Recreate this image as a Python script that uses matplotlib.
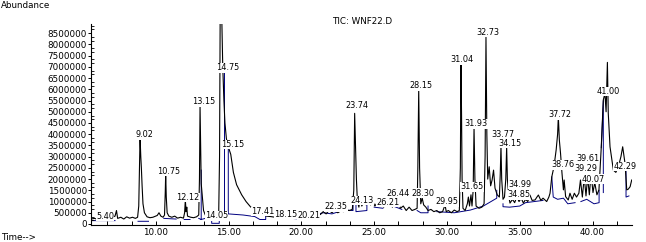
import matplotlib
matplotlib.use("Agg")
import matplotlib.pyplot as plt
import numpy as np
from matplotlib.ticker import MultipleLocator, FuncFormatter

nan = np.nan

# TIC trace (time in min, abundance in millions)
tic_t = [5.55, 5.8, 6.0, 6.2, 6.4, 6.6, 6.8, 7.0, 7.2, 7.3, 7.38, 7.6, 7.8, 8.0, 8.2, 8.4, 8.6, 8.75,
         8.83, 8.88, 8.92, 8.97, 9.01, 9.06, 9.12, 9.22, 9.4, 9.6, 9.8,
         10.1, 10.22, 10.35, 10.5, 10.6, 10.65, 10.68, 10.72, 10.78, 10.9, 11.1, 11.3, 11.5, 11.7, 11.9,
         11.98, 12.03, 12.08, 12.13, 12.18, 12.4, 12.6, 12.8, 12.95,
         13.0, 13.04, 13.08, 13.12, 13.2, 13.28, 13.4, 13.6, 13.8, 14.0, 14.2, 14.32,
         14.38, 14.42, 14.54, 14.6, 14.68, 14.75, 14.85, 15.0, 15.15, 15.33, 15.55, 15.9, 16.2, 16.5, 16.8, 17.16,
         17.4, 17.6, 17.9, 18.2, 18.5, 18.8, 19.1, 19.5, 19.8, 20.1, 20.4, 20.7, 20.9, 21.1, 21.3, 21.5, 21.7,
         21.9, 22.1, 22.3, 22.5, 22.7, 22.9, 23.1, 23.3, 23.5,
         23.6, 23.66, 23.72, 23.78, 23.85, 23.95, 24.05, 24.15, 24.3, 24.45, 24.6, 24.75, 24.9, 25.05, 25.2,
         25.35, 25.5, 25.65, 25.8, 25.95, 26.1, 26.25, 26.4, 26.5, 26.65, 26.8, 27.0, 27.2, 27.4, 27.6, 27.8, 27.95,
         28.0, 28.06, 28.12, 28.2, 28.3, 28.4, 28.55, 28.7, 28.9, 29.1, 29.3, 29.5, 29.7, 29.87, 29.95, 30.1,
         30.3, 30.5, 30.7, 30.85,
         30.92, 30.96, 31.0, 31.04, 31.1, 31.25, 31.4, 31.47, 31.55, 31.65, 31.72,
         31.8, 31.86, 31.92, 32.0, 32.2, 32.4, 32.55,
         32.62, 32.68, 32.74, 32.8, 32.9, 33.0, 33.1, 33.2, 33.3, 33.45, 33.6,
         33.66, 33.71, 33.76, 33.85, 33.95, 34.04, 34.1, 34.15, 34.25, 34.33, 34.5, 34.65, 34.8, 34.95, 35.1,
         35.25, 35.4, 35.55, 35.7, 35.85, 36.05, 36.18, 36.28, 36.45, 36.6, 36.85, 37.0, 37.08, 37.2,
         37.35, 37.5, 37.6, 37.65, 37.72, 37.8, 37.9, 38.0, 38.05, 38.15, 38.33, 38.45, 38.6, 38.75, 38.9,
         39.06, 39.17, 39.3, 39.43, 39.55, 39.66, 39.78, 39.9, 40.03, 40.15, 40.3, 40.44,
         40.6, 40.74, 40.85, 40.93, 41.02, 41.08, 41.2, 41.43, 41.6, 41.77, 41.95, 42.07, 42.23, 42.35,
         42.45, 42.58, 42.69]
tic_a = [0.22, 0.25, 0.2, 0.28, 0.22, 0.3, 0.24, 0.3, 0.35, 0.6, 0.25, 0.3, 0.22, 0.32, 0.26, 0.3, 0.25, 0.3,
         0.8, 2.6, 3.88, 3.0, 2.5, 1.7, 0.9, 0.5, 0.32, 0.28, 0.3,
         0.38, 0.5, 0.35, 0.3, 0.4, 1.4, 2.23, 1.2, 0.5, 0.35, 0.3, 0.35, 0.26, 0.3, 0.26,
         0.5, 1.07, 0.55, 0.75, 0.35, 0.3, 0.28, 0.32, 0.4,
         2.0, 5.26, 3.5, 1.8, 1.2, 0.6, 0.4, 0.33, 0.3, 0.3, 0.32, 0.4,
         3.0, 8.95, 8.95, 7.0, 5.5, 4.5, 3.8, 3.4, 3.1, 2.3, 1.75, 1.3, 1.0, 0.77, 0.6, 0.48,
         0.42, 0.35, 0.33, 0.3, 0.28, 0.3, 0.26, 0.28, 0.3, 0.3, 0.28, 0.4, 0.35, 0.45, 0.42, 0.55, 0.45,
         0.6, 0.5, 0.62, 0.5, 0.58, 0.55, 0.62, 0.6, 0.65,
         1.5, 4.93, 3.5, 2.0, 1.0, 0.75, 1.2, 0.8, 1.0, 0.85, 1.05, 0.85, 1.0, 0.8, 0.95,
         0.8, 0.9, 0.75, 0.9, 0.8, 1.0, 0.75, 1.05, 0.8, 0.95, 0.7, 0.8, 0.6, 0.75, 0.6, 0.65, 0.7,
         2.5, 6.0, 2.5, 0.9, 1.15, 0.85, 0.75, 0.6, 0.65, 0.55, 0.6, 0.5, 0.55, 0.85, 0.55, 0.6,
         0.5, 0.62, 0.55, 0.6,
         2.5, 7.16, 5.0, 2.0, 0.7, 0.6, 0.9, 1.2, 0.8, 1.3, 0.8,
         1.5, 4.31, 2.0, 0.8, 0.7, 0.75, 0.9,
         3.0, 8.32, 4.0, 2.0, 2.55, 1.7, 1.96, 2.4, 1.6, 1.3, 1.2,
         2.2, 3.49, 2.0, 1.1, 1.2, 2.0, 3.42, 2.0, 1.2, 0.93, 1.1, 0.95, 1.22, 1.0, 1.15,
         0.93, 1.1, 1.0, 1.29, 1.05, 1.07, 1.2, 1.29, 1.05, 1.15, 1.0, 1.2, 1.37, 2.1,
         2.55, 3.3, 4.0, 4.78, 3.74, 3.16, 2.27, 1.52, 1.96, 1.22, 1.07, 1.37, 1.1, 1.37, 1.2,
         1.37, 1.96, 1.2, 2.1, 1.25, 2.1, 1.3, 2.26, 1.4, 1.85, 1.3, 1.52,
         3.44, 5.53, 5.82, 5.0, 7.2, 4.93, 3.44, 2.4, 2.3, 2.55, 3.0, 3.44, 2.7, 1.52,
         1.55, 1.66, 1.96]

# integration baseline (blue), nan separates segments
base_t = [5.6, 7.2, nan, 8.78, 9.5, nan, 10.55, 11.4, nan, 11.95, 12.35, nan,
          12.95, 13.12, 13.12, nan, 13.12, 13.4, nan,
          13.84, 13.84, 14.36, 14.36, nan, 14.72, 14.72, nan,
          14.98, 14.98, 16.0, 16.8, 17.15, 17.55, 17.55, nan,
          19.3, 20.4, nan, 20.9, 21.5, 22.1, 22.9, 23.55, 23.55, nan,
          23.75, 23.75, 24.5, 24.5, nan, 25.0, 25.6, nan, 26.3, 26.9, nan,
          27.95, 28.2, 28.7, 28.7, nan,
          29.3, 30.5, 31.6, 32.5, 33.42, 33.42, nan,
          33.85, 33.85, 34.3, 35.0, 35.4, 36.0, 36.6, nan,
          37.2, 37.3, 37.6, 38.0, 38.3, 38.8, nan,
          39.2, 39.6, 40.1, 40.45, 40.45, nan,
          40.6, 40.74, 40.74, nan, 42.3, 42.3, 42.5]
base_a = [0.15, 0.15, nan, 0.12, 0.12, nan, 0.25, 0.22, nan, 0.2, 0.2, nan,
          0.25, 0.2, 2.4, nan, 0.2, 0.25, nan,
          0.35, 0.03, 0.03, 0.35, nan, 0.3, 7.0, nan,
          3.4, 0.45, 0.4, 0.33, 0.2, 0.2, 0.4, nan,
          0.25, 0.2, nan, 0.4, 0.5, 0.45, 0.62, 0.6, 1.0, nan,
          1.0, 0.55, 0.6, 0.9, nan, 0.75, 0.7, nan, 0.8, 0.65, nan,
          0.6, 0.5, 0.5, 0.8, nan,
          0.55, 0.5, 0.62, 0.8, 1.15, 1.5, nan,
          0.9, 0.77, 0.75, 0.8, 0.95, 1.0, 1.05, nan,
          2.1, 1.2, 1.1, 1.15, 0.9, 0.95, nan,
          1.0, 1.1, 0.9, 0.95, 1.5, nan,
          3.4, 5.5, 1.4, nan, 2.4, 1.2, 1.25]

# peak labels: text, centre time, centre abundance (millions)
lab_text = ["5.40", "9.02", "10.75", "12.12", "13.15", "14.05", "14.75", "15.15",
            "17.41", "18.15", "20.21", "22.35", "23.74", "24.13", "26.21", "26.44",
            "28.15", "28.30", "29.95", "31.04", "31.65", "31.93", "32.73", "33.77",
            "34.15", "34.99", "34.85", "37.72", "38.76", "39.61", "39.29", "40.07",
            "41.00", "42.29"]
lab_t = [6.51, 9.19, 10.87, 12.21, 13.28, 14.17, 14.93, 15.27,
         17.35, 18.95, 20.5, 22.38, 23.8, 24.15, 25.95, 26.65,
         28.22, 28.36, 30.0, 31.03, 31.72, 31.99, 32.84, 33.85,
         34.33, 35.0, 34.92, 37.77, 37.95, 39.66, 39.55, 40.07,
         41.06, 42.23]
lab_a = [0.33, 3.97, 2.36, 1.17, 5.44, 0.36, 6.96, 3.55,
         0.55, 0.42, 0.40, 0.76, 5.26, 1.04, 0.95, 1.35,
         6.15, 1.37, 0.98, 7.31, 1.65, 4.46, 8.52, 4.0,
         3.58, 1.75, 1.3, 4.86, 2.63, 2.92, 2.45, 2.0,
         5.9, 2.55]

fs = 6.3
lfs = 5.9
fig = plt.figure(figsize=(6.46, 2.42), dpi=100)
ax = fig.add_axes([91/646, 1 - 225/242, (632 - 91)/646, (225 - 24)/242])

ax.plot(base_t, np.array(base_a) * 1e6, color="#000080", lw=0.7, zorder=1)
ax.plot(tic_t, np.array(tic_a) * 1e6, color="black", lw=0.8, zorder=2)

for s, t, a in zip(lab_text, lab_t, lab_a):
    ax.text(t, a * 1e6, s, ha="center", va="center", fontsize=lfs, zorder=5,
            bbox=dict(fc="white", ec="none", pad=0.2))

ax.set_xlim(5.55, 42.71)
ax.set_ylim(-0.045e6, 8.91e6)
for sp in ["top", "right"]:
    ax.spines[sp].set_visible(False)
for sp in ["left", "bottom"]:
    ax.spines[sp].set_linewidth(0.8)

ax.xaxis.set_major_locator(MultipleLocator(5))
ax.xaxis.set_minor_locator(MultipleLocator(5 / 3))
ax.xaxis.set_major_formatter(FuncFormatter(lambda v, p: "%.2f" % v))
ax.yaxis.set_major_locator(MultipleLocator(500000))
ax.yaxis.set_minor_locator(MultipleLocator(500000 / 3))
ax.yaxis.set_major_formatter(FuncFormatter(lambda v, p: "%d" % v))
ax.tick_params(axis="x", which="both", direction="in", length=3, width=0.7,
               labelsize=fs, pad=2)
ax.tick_params(axis="y", which="major", direction="out", length=2, width=0.7,
               labelsize=fs, pad=1)
ax.tick_params(axis="y", which="minor", direction="in", length=2, width=0.6)

fig.text(362/646, 1 - 21/242, "TIC: WNF22.D", ha="center", va="center", fontsize=fs)
fig.text(1/646, 1 - 5/242, "Abundance", ha="left", va="center", fontsize=fs)
fig.text(1/646, 1 - 238/242, "Time-->", ha="left", va="center", fontsize=fs)

fig.savefig("out.png", dpi=100)
